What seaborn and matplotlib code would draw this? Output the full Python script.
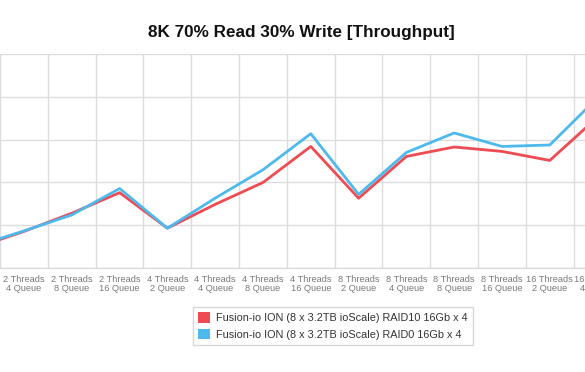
import matplotlib
matplotlib.use("Agg")
import matplotlib.pyplot as plt
from matplotlib.patches import Patch
import seaborn as sns
import pandas as pd

categories = [
    "2 Threads\n2 Queue", "2 Threads\n4 Queue", "2 Threads\n8 Queue", "2 Threads\n16 Queue",
    "4 Threads\n2 Queue", "4 Threads\n4 Queue", "4 Threads\n8 Queue", "4 Threads\n16 Queue",
    "8 Threads\n2 Queue", "8 Threads\n4 Queue", "8 Threads\n8 Queue", "8 Threads\n16 Queue",
    "16 Threads\n2 Queue", "16 Threads\n4 Queue",
]
raid10 = [48, 85.5, 128, 176, 93, 148.7, 199.8, 284, 163, 260.7, 282.7, 272.4, 251.3, 352.5]
raid0 = [51.5, 86.7, 124, 185.7, 93, 163.2, 229.5, 313.8, 172, 270, 315.5, 284, 287.4, 398]
series_names = ["Fusion-io ION (8 x 3.2TB ioScale) RAID10 16Gb x 4",
                "Fusion-io ION (8 x 3.2TB ioScale) RAID0 16Gb x 4"]
colors = ["#EE4B52", "#4DB9EC"]

df = pd.concat([
    pd.DataFrame({"x": range(len(categories)), "y": raid10, "s": series_names[0]}),
    pd.DataFrame({"x": range(len(categories)), "y": raid0, "s": series_names[1]}),
])

sns.set_theme(style="white")
plt.rcParams["font.family"] = ["Liberation Sans", "DejaVu Sans"]

W, H = 585, 372
fig = plt.figure(figsize=(W / 100, H / 100), dpi=100)
left_px, right_px = -47.7, 621.5
top_px, bot_px = 54, 268
ax = fig.add_axes([left_px / W, (H - bot_px) / H, (right_px - left_px) / W, (bot_px - top_px) / H])

sns.lineplot(data=df, x="x", y="y", hue="s", palette=colors, ax=ax, legend=False,
             linewidth=2.0, sort=False)

n = len(categories)
ax.set_xlim(-0.5, n - 0.5)
ax.set_ylim(0, 500)
ax.set_xticks(range(n))
ax.set_xticklabels(categories, fontsize=6.7, color="#7a7a7a", linespacing=0.98)
ax.set_xticks([i - 0.5 for i in range(n + 1)], minor=True)
ax.set_yticks([0, 100, 200, 300, 400, 500])
ax.set_yticklabels([])
ax.tick_params(axis="x", which="both", length=0, pad=5)
ax.tick_params(axis="y", length=0)
ax.grid(False)
ax.grid(True, axis="x", which="minor", color="#dcdcdc", linewidth=1.0)
ax.grid(True, axis="y", which="major", color="#dcdcdc", linewidth=1.0)
ax.set_axisbelow(True)
for side in ["top", "left", "right"]:
    ax.spines[side].set_visible(False)
ax.spines["bottom"].set_color("#dcdcdc")
ax.spines["bottom"].set_linewidth(1.0)
ax.set_xlabel("")
ax.set_ylabel("")

fig.text(301 / W, 1 - 33 / H, "8K 70% Read 30% Write [Throughput]", ha="center", va="center",
         fontsize=12.3, fontweight="bold", color="#111111")

handles = [Patch(facecolor=c, edgecolor="none") for c in colors]
leg = fig.legend(handles, series_names, loc="center", bbox_to_anchor=(333 / W, 1 - 326 / H),
                 fontsize=7.8, frameon=True, fancybox=False, handlelength=1.1, handleheight=1.1,
                 handletextpad=0.6, borderpad=0.5, labelspacing=0.55)
leg.get_frame().set_edgecolor("#cccccc")
leg.get_frame().set_linewidth(1.0)
for t in leg.get_texts():
    t.set_color("#333333")

fig.savefig("out.png", dpi=100)
